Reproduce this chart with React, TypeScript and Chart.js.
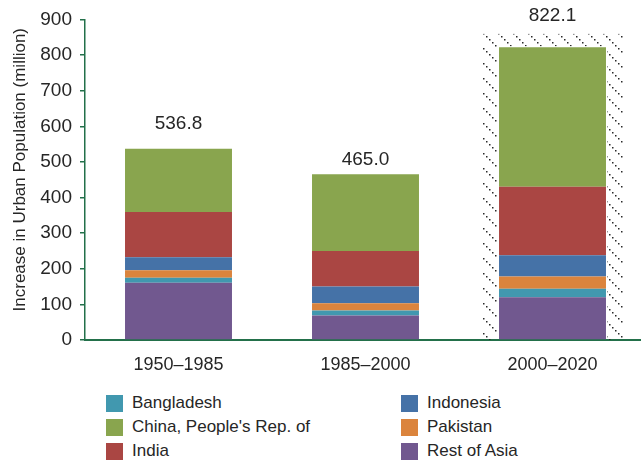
import React, { useEffect, useRef } from "react";
import { Chart, registerables } from "chart.js";

Chart.register(...registerables);

const categories = ["1950–1985", "1985–2000", "2000–2020"];
const restOfAsia = [161, 69, 120];
const bangladesh = [14, 14, 24];
const pakistan = [21, 20, 34];
const indonesia = [36, 47, 60];
const india = [127, 100, 192];
const china = [177.8, 215, 392.1];
const yTicks = [0, 100, 200, 300, 400, 500, 600, 700, 800, 900];
const hatchTopValue = 860;
const hatchIndex = 2;
const labelGap = [25, 15, 31];

const COLORS = {
  bangladesh: "#4198AF",
  china: "#89A54E",
  india: "#AA4643",
  indonesia: "#4572A7",
  pakistan: "#DB843D",
  rest: "#71588F",
};

const FONT = "'Liberation Sans', Arial, sans-serif";
const TEXT = "#262626";
const AXIS = "#23704a";

const legendItems = [
  { label: "Bangladesh", color: COLORS.bangladesh, col: 0, row: 0 },
  { label: "China, People's Rep. of", color: COLORS.china, col: 0, row: 1 },
  { label: "India", color: COLORS.india, col: 0, row: 2 },
  { label: "Indonesia", color: COLORS.indonesia, col: 1, row: 0 },
  { label: "Pakistan", color: COLORS.pakistan, col: 1, row: 1 },
  { label: "Rest of Asia", color: COLORS.rest, col: 1, row: 2 },
];

function makeHatch(): CanvasPattern | string {
  const t = document.createElement("canvas");
  const n = 15;
  t.width = n;
  t.height = n;
  const c = t.getContext("2d");
  if (!c) return "transparent";
  c.fillStyle = "#2a2a2a";
  for (let i = 0; i < n; i += 3) {
    c.fillRect(i, i, 1.5, 1.5);
  }
  const p = c.createPattern(t, "repeat");
  return p || "transparent";
}

export default function App() {
  const ref = useRef<HTMLCanvasElement | null>(null);

  useEffect(() => {
    document.body.style.margin = "0";
    const canvas = ref.current;
    if (!canvas) return;
    const totals = categories.map((_, i) =>
      (restOfAsia[i] + bangladesh[i] + pakistan[i] + indonesia[i] + india[i] + china[i]).toFixed(1)
    );

    const hatchPlugin = {
      id: "hatch",
      beforeDatasetsDraw(chart: any) {
        const n = chart.data.datasets.length;
        const el = chart.getDatasetMeta(0).data[hatchIndex];
        const topEl = chart.getDatasetMeta(n - 1).data[hatchIndex];
        if (!el || !topEl) return;
        const { ctx, chartArea } = chart;
        const half = el.width / 2 + 17;
        const top = chart.scales.y.getPixelForValue(hatchTopValue);
        ctx.save();
        ctx.beginPath();
        ctx.rect(el.x - half, top, half * 2, chartArea.bottom - top);
        ctx.rect(el.x - el.width / 2 - 1, topEl.y - 1, el.width + 2, chartArea.bottom - topEl.y + 1);
        ctx.clip("evenodd");
        ctx.fillStyle = makeHatch();
        ctx.fillRect(el.x - half, top, half * 2, chartArea.bottom - top);
        ctx.restore();
      },
    };

    const labelPlugin = {
      id: "totals",
      afterDatasetsDraw(chart: any) {
        const { ctx } = chart;
        const n = chart.data.datasets.length;
        const meta = chart.getDatasetMeta(n - 1);
        ctx.save();
        ctx.font = `19px ${FONT}`;
        ctx.fillStyle = TEXT;
        ctx.textAlign = "center";
        ctx.textBaseline = "middle";
        meta.data.forEach((el: any, i: number) => {
          ctx.fillText(totals[i], el.x, el.y - labelGap[i]);
        });
        ctx.restore();
      },
      afterDraw(chart: any) {
        const { ctx, chartArea } = chart;
        ctx.save();
        ctx.font = `17px ${FONT}`;
        ctx.fillStyle = TEXT;
        ctx.textAlign = "center";
        ctx.textBaseline = "middle";
        ctx.translate(20, (chartArea.top + chartArea.bottom) / 2 - 10);
        ctx.rotate(-Math.PI / 2);
        ctx.fillText("Increase in Urban Population (million)", 0, 0);
        ctx.restore();
      },
    };

    const mk = (label: string, data: number[], color: string) => ({
      label,
      data,
      backgroundColor: color,
      borderWidth: 0,
      barPercentage: 0.572,
      categoryPercentage: 1,
    });

    const chart = new Chart(canvas, {
      type: "bar",
      data: {
        labels: categories,
        datasets: [
          mk("Rest of Asia", restOfAsia, COLORS.rest),
          mk("Bangladesh", bangladesh, COLORS.bangladesh),
          mk("Pakistan", pakistan, COLORS.pakistan),
          mk("Indonesia", indonesia, COLORS.indonesia),
          mk("India", india, COLORS.india),
          mk("China, People's Rep. of", china, COLORS.china),
        ],
      },
      options: {
        animation: false,
        responsive: false,
        devicePixelRatio: 1,
        layout: { padding: { top: 19, right: 14, left: 0, bottom: 0 } },
        plugins: {
          legend: { display: false },
          tooltip: { enabled: false },
          title: { display: false },
        },
        scales: {
          x: {
            stacked: true,
            grid: { display: false, drawTicks: false },
            border: { display: true, color: AXIS, width: 2 },
            ticks: { color: TEXT, font: { family: FONT, size: 18 }, padding: 14 },
            afterFit: (s: any) => {
              s.height = 50;
            },
          },
          y: {
            stacked: true,
            min: 0,
            max: 900,
            afterBuildTicks: (s: any) => {
              s.ticks = yTicks.map((v) => ({ value: v }));
            },
            grid: {
              display: true,
              drawOnChartArea: false,
              drawTicks: true,
              tickLength: 5,
              color: AXIS,
              lineWidth: 1.5,
            },
            border: { display: true, color: AXIS, width: 1.5 },
            ticks: { color: TEXT, font: { family: FONT, size: 19 }, padding: 8 },
            afterFit: (s: any) => {
              s.width = 85;
            },
          },
        },
      },
      plugins: [hatchPlugin, labelPlugin],
    });
    return () => chart.destroy();
  }, []);

  return (
    <div style={{ position: "relative", width: 641, height: 463, overflow: "hidden", background: "#fff" }}>
      <canvas ref={ref} width={660} height={390} style={{ position: "absolute", left: 0, top: 0 }} />
      {legendItems.map((it) => (
        <div
          key={it.label}
          style={{
            position: "absolute",
            left: it.col === 0 ? 106 : 401,
            top: 394 + it.row * 24,
            height: 18,
            display: "flex",
            alignItems: "center",
            fontFamily: FONT,
            fontSize: 17,
            color: TEXT,
            whiteSpace: "nowrap",
          }}
        >
          <span style={{ display: "inline-block", width: 17, height: 17, background: it.color, marginRight: 9 }} />
          <span>{it.label}</span>
        </div>
      ))}
    </div>
  );
}
